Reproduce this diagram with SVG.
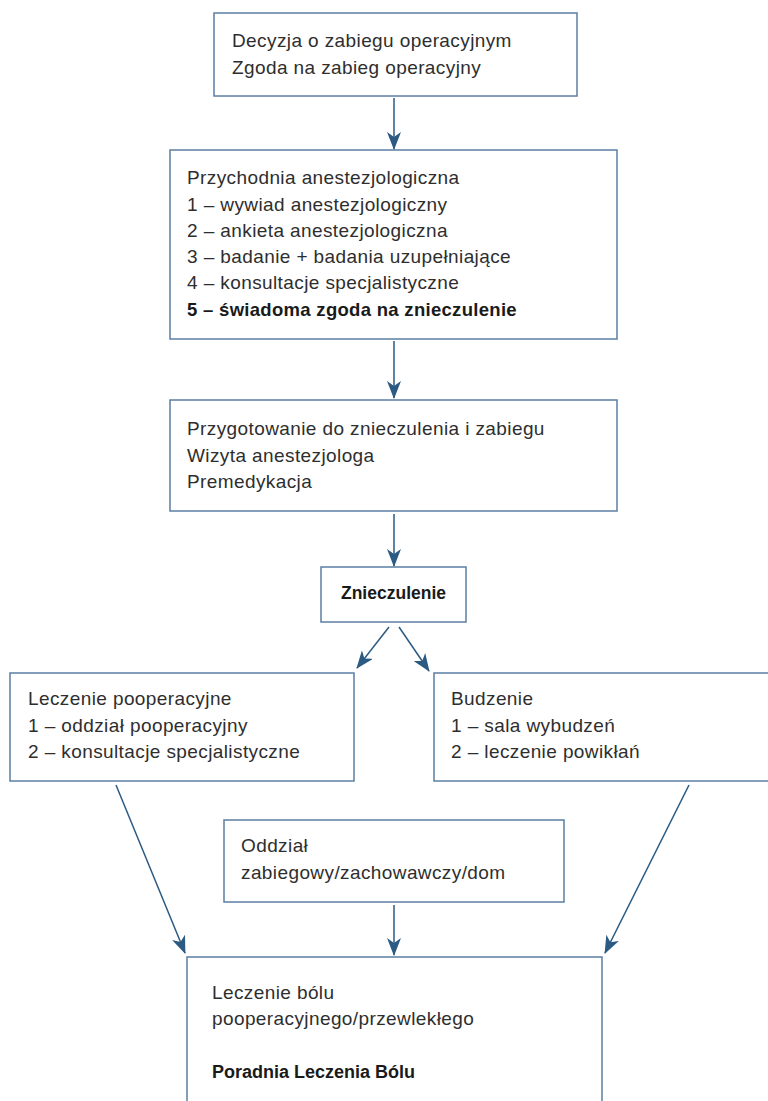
<svg xmlns="http://www.w3.org/2000/svg" width="768" height="1101" viewBox="0 0 768 1101">
<style>
.box{fill:#fff;stroke:#5a7fa2;stroke-width:1.5}
.t{font-family:"Liberation Sans",Arial,sans-serif;font-size:19px;letter-spacing:0.4px;fill:#2e2e2e}
.b{font-weight:bold;fill:#1a1a1a;font-size:18.5px;letter-spacing:0.3px}
.b2{font-weight:bold;fill:#1a1a1a;font-size:17.5px;letter-spacing:0}
.b3{font-weight:bold;fill:#1a1a1a;font-size:18px;letter-spacing:0}
.c{stroke:#2b5a82;stroke-width:1.5;fill:none;marker-end:url(#ah)}
</style>
<defs>
<marker id="ah" viewBox="0 0 18 14" refX="17" refY="7" markerWidth="18" markerHeight="14" markerUnits="userSpaceOnUse" orient="auto">
<path d="M0,0 L18,7 L0,14 L5,7 Z" fill="#2b5a82"/>
</marker>
</defs>
<rect width="768" height="1101" fill="#fff"/>
<g id="connectors">
<line class="c" x1="394" y1="98" x2="394" y2="149"/>
<line class="c" x1="394" y1="341" x2="394" y2="398"/>
<line class="c" x1="394" y1="514" x2="394" y2="566"/>
<line class="c" x1="389" y1="627" x2="357" y2="668"/>
<line class="c" x1="399" y1="627" x2="429" y2="671"/>
<line class="c" x1="116" y1="785" x2="185" y2="953"/>
<line class="c" x1="689" y1="785" x2="605" y2="953"/>
<line class="c" x1="394" y1="905" x2="394" y2="955"/>
</g>
<g id="n1">
<rect class="box" x="214" y="13" width="363" height="83"/>
<text class="t" x="232" y="47">Decyzja o zabiegu operacyjnym</text>
<text class="t" x="232" y="74">Zgoda na zabieg operacyjny</text>
</g>
<g id="n2">
<rect class="box" x="170" y="150" width="447" height="189"/>
<text class="t" x="187" y="184">Przychodnia anestezjologiczna</text>
<text class="t" x="187" y="211">1 – wywiad anestezjologiczny</text>
<text class="t" x="187" y="237">2 – ankieta anestezjologiczna</text>
<text class="t" x="187" y="263">3 – badanie + badania uzupełniające</text>
<text class="t" x="187" y="289">4 – konsultacje specjalistyczne</text>
<text class="t b" x="187" y="316">5 – świadoma zgoda na znieczulenie</text>
</g>
<g id="n3">
<rect class="box" x="170" y="400" width="447" height="111"/>
<text class="t" x="187" y="435">Przygotowanie do znieczulenia i zabiegu</text>
<text class="t" x="187" y="462">Wizyta anestezjologa</text>
<text class="t" x="187" y="488">Premedykacja</text>
</g>
<g id="n4">
<rect class="box" x="321" y="567" width="145" height="55"/>
<text class="t b2" x="393.5" y="599" text-anchor="middle">Znieczulenie</text>
</g>
<g id="n5">
<rect class="box" x="10" y="673" width="344" height="108"/>
<text class="t" x="28" y="705">Leczenie pooperacyjne</text>
<text class="t" x="28" y="732">1 – oddział pooperacyjny</text>
<text class="t" x="28" y="758">2 – konsultacje specjalistyczne</text>
</g>
<g id="n6">
<rect class="box" x="434" y="673" width="345" height="108"/>
<text class="t" x="451" y="705">Budzenie</text>
<text class="t" x="451" y="732">1 – sala wybudzeń</text>
<text class="t" x="451" y="758">2 – leczenie powikłań</text>
</g>
<g id="n7">
<rect class="box" x="224" y="820" width="340" height="82"/>
<text class="t" x="241" y="852">Oddział</text>
<text class="t" x="241" y="879">zabiegowy/zachowawczy/dom</text>
</g>
<g id="n8">
<rect class="box" x="187" y="957" width="415" height="160"/>
<text class="t" x="212" y="999">Leczenie bólu</text>
<text class="t" x="212" y="1025">pooperacyjnego/przewlekłego</text>
<text class="t b3" x="212" y="1078">Poradnia Leczenia Bólu</text>
</g>
</svg>
